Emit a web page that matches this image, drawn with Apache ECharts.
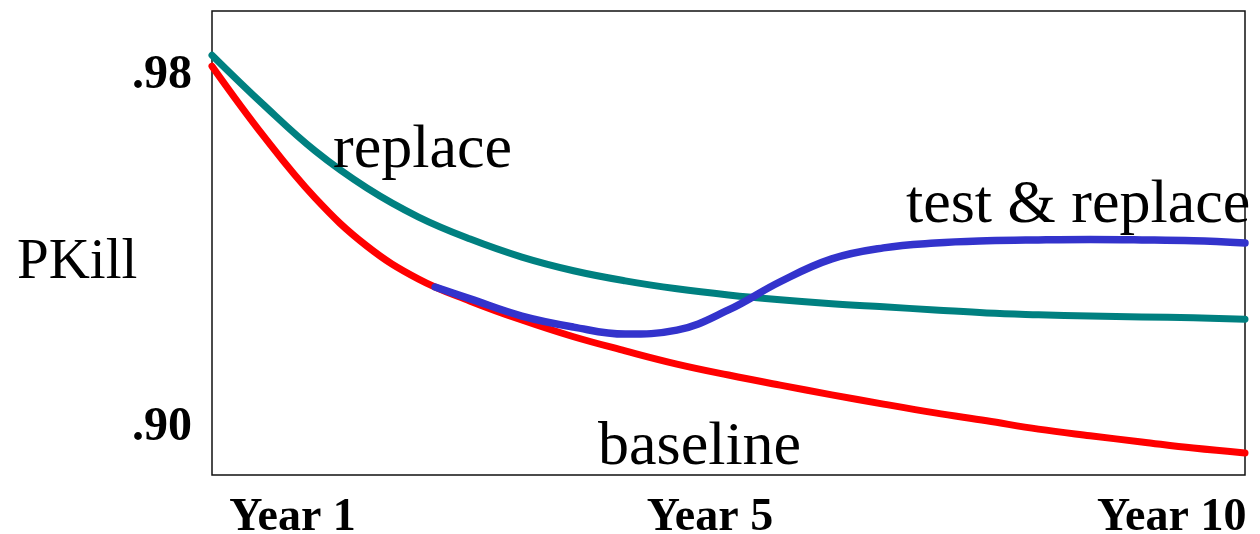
<!DOCTYPE html>
<html>
<head>
<meta charset="utf-8">
<title>PKill over time</title>
<script src="https://cdn.jsdelivr.net/npm/echarts@6/dist/echarts.min.js"></script>
<style>
  html, body { margin: 0; padding: 0; background: #ffffff; }
  #chart { width: 1260px; height: 534px; }
</style>
</head>
<body>
<div id="chart"></div>
<script>
// Time axis: 0 = start of Year 1, 10 = end of Year 10
const years = [0, 0.5, 1, 1.5, 2, 2.5, 3, 3.5, 4, 4.5, 5, 5.5, 6, 6.5, 7, 7.5, 8, 8.5, 9, 9.5, 10];

// Kill probability, no intervention
const baseline = [0.9821, 0.9662, 0.9521, 0.9412, 0.9337, 0.9287, 0.9244, 0.9206,
                  0.9174, 0.9144, 0.9119, 0.9096, 0.9074, 0.9053, 0.9033, 0.9015, 0.8996, 0.8981,
                  0.8967, 0.8953, 0.8942];

// Kill probability with scheduled replacement
const replace = [0.9846, 0.9733, 0.9628, 0.9544, 0.9478, 0.9428, 0.9387, 0.9356,
                 0.9333, 0.9315, 0.9301, 0.9290, 0.9281, 0.9274, 0.9267, 0.9260, 0.9256, 0.9253,
                 0.9251, 0.9249, 0.9246];

// Test & replace program branches off the baseline early in Year 3
const testYears = [2.16, 2.5, 3, 3.5, 4, 4.5, 5, 5.5, 6, 6.5, 7, 7.5, 8, 8.5, 9, 9.5, 10];
const testReplace = [0.9319, 0.9292, 0.9253, 0.9228, 0.9212, 0.9221, 0.9267, 0.9331, 0.9383, 0.9408,
                     0.9419, 0.9424, 0.9426, 0.9427, 0.9426, 0.9424, 0.9419];

// Axis tick positions and their texts
const xTickPos = [0.78, 4.82, 9.29];
const xTickLabels = ['Year 1', 'Year 5', 'Year 10'];
const yTickPos = [0.90, 0.98];
const yTickLabels = ['.90', '.98'];

const SERIF = '"Liberation Serif", "Times New Roman", Times, serif';

function pairs(xs, ys) { return xs.map((x, i) => [x, ys[i]]); }

const chart = echarts.init(document.getElementById('chart'), null, { renderer: 'canvas' });

const lineSeries = (name, data, color, width) => ({
  name: name,
  type: 'line',
  data: data,
  smooth: 0.4,
  showSymbol: false,
  clip: false,
  lineStyle: { color: color, width: width, cap: 'round', join: 'round' },
  emphasis: { disabled: true }
});

chart.setOption({
  animation: false,
  backgroundColor: '#ffffff',
  grid: {
    left: 212, right: 15, top: 11, bottom: 59,
    outerBoundsMode: 'none',
    containLabel: false,
    show: true, borderColor: '#111111', borderWidth: 1.5, backgroundColor: 'transparent'
  },
  xAxis: {
    type: 'value', min: 0, max: 10,
    axisLine: { show: false }, axisTick: { show: false }, splitLine: { show: false },
    axisLabel: {
      customValues: xTickPos,
      margin: 20,
      color: '#000', fontFamily: SERIF, fontWeight: 'bold', fontSize: 46,
      formatter: v => {
        const i = xTickPos.findIndex(p => Math.abs(p - v) < 1e-6);
        return i >= 0 ? xTickLabels[i] : '';
      }
    }
  },
  yAxis: {
    type: 'value', min: 0.88918, max: 0.99464,
    axisLine: { show: false }, axisTick: { show: false }, splitLine: { show: false },
    axisLabel: {
      customValues: yTickPos,
      margin: 20,
      color: '#000', fontFamily: SERIF, fontWeight: 'bold', fontSize: 48,
      formatter: v => {
        const i = yTickPos.findIndex(p => Math.abs(p - v) < 1e-6);
        return i >= 0 ? yTickLabels[i] : '';
      }
    }
  },
  graphic: [
    { type: 'text', x: 17, y: 263, style: { text: 'PKill', fill: '#000', font: '57px ' + SERIF, verticalAlign: 'middle', align: 'left' } },
    { type: 'text', x: 333, y: 151, z: 10, style: { text: 'replace', fill: '#000', font: '62px ' + SERIF, verticalAlign: 'middle', align: 'left' } },
    { type: 'text', x: 906, y: 206, z: 10, style: { text: 'test & replace', fill: '#000', font: '62px ' + SERIF, verticalAlign: 'middle', align: 'left' } },
    { type: 'text', x: 598, y: 448, z: 10, style: { text: 'baseline', fill: '#000', font: '62px ' + SERIF, verticalAlign: 'middle', align: 'left' } }
  ],
  series: [
    lineSeries('replace', pairs(years, replace), '#008080', 7),
    lineSeries('baseline', pairs(years, baseline), '#ff0000', 7),
    lineSeries('test & replace', pairs(testYears, testReplace), '#3333cc', 7.5)
  ]
});
</script>
</body>
</html>
